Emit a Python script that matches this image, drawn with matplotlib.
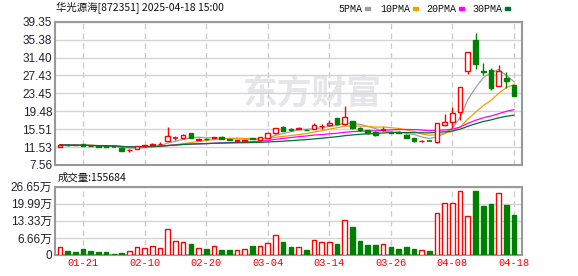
import matplotlib
matplotlib.use("Agg")
from matplotlib import pyplot as plt
from matplotlib.patches import Rectangle
import numpy as np
import pandas as pd

# trading days shown (2025)
dates = ['01-16', '01-17', '01-20', '01-21', '01-22', '01-23', '01-24', '01-27',
         '02-05', '02-06', '02-07', '02-10', '02-11', '02-12', '02-13', '02-14',
         '02-17', '02-18', '02-19', '02-20', '02-21', '02-24', '02-25', '02-26',
         '02-27', '02-28', '03-03', '03-04', '03-05', '03-06', '03-07', '03-10',
         '03-11', '03-12', '03-13', '03-14', '03-17', '03-18', '03-19', '03-20',
         '03-21', '03-24', '03-25', '03-26', '03-27', '03-28', '03-31', '04-01',
         '04-02', '04-03', '04-07', '04-08', '04-09', '04-10', '04-11', '04-14',
         '04-15', '04-16', '04-17', '04-18']

opens = [11.65, 12.0, 12.05, 12.2, 11.85, 11.75, 11.7, 11.6, 11.4, 10.8,
         11.2, 11.7, 12.1, 12.2, 12.95, 13.5, 13.5, 14.6, 13.2, 13.35,
         13.6, 13.85, 13.3, 12.95, 12.95, 13.45, 13.1, 13.65, 14.7, 15.95,
         15.5, 15.55, 15.4, 15.55, 16.1, 16.35, 17.9, 16.6, 17.3, 15.7,
         15.3, 14.95, 15.3, 14.8, 14.85, 14.3, 13.55, 12.85, 12.95, 12.7,
         16.4, 17.2, 19.25, 28.5, 35.3, 28.5, 28.6, 25.1, 26.75, 25.3]
highs = [12.15, 12.2, 12.1, 12.3, 11.9, 11.8, 11.75, 11.65, 11.5, 11.0,
         11.75, 12.1, 12.5, 12.7, 15.9, 13.9, 14.4, 14.7, 13.6, 13.5,
         13.85, 13.95, 13.4, 13.2, 13.2, 13.6, 13.85, 14.7, 15.85, 16.2,
         15.7, 15.9, 15.5, 16.8, 16.6, 17.6, 18.0, 20.6, 17.4, 15.9,
         15.4, 15.0, 15.9, 14.9, 15.0, 14.4, 13.6, 13.0, 13.0, 16.77,
         18.9, 20.35, 24.8, 32.6, 36.9, 30.25, 29.0, 29.75, 28.3, 25.4]
lows = [11.6, 11.7, 11.9, 11.8, 11.7, 11.6, 11.45, 11.5, 10.6, 10.35,
        11.15, 11.65, 11.9, 12.0, 12.8, 13.2, 13.4, 13.5, 13.1, 13.1,
        13.5, 13.3, 13.1, 12.8, 12.85, 13.3, 13.05, 13.6, 14.5, 15.0,
        15.2, 15.5, 15.25, 15.5, 15.6, 16.3, 16.5, 16.4, 15.6, 15.0,
        14.5, 13.9, 15.2, 14.6, 14.6, 13.5, 12.7, 12.6, 12.8, 12.5,
        16.3, 15.7, 17.6, 27.75, 28.8, 27.5, 24.1, 25.0, 24.6, 22.8]
closes = [12.05, 11.9, 11.95, 11.85, 11.75, 11.65, 11.6, 11.55, 10.7, 10.95,
          11.7, 12.0, 12.2, 12.3, 14.0, 13.55, 14.2, 13.65, 13.3, 13.25,
          13.75, 13.4, 13.2, 13.05, 13.1, 13.35, 13.75, 14.6, 15.75, 15.2,
          15.4, 15.75, 15.3, 16.35, 16.25, 16.95, 16.6, 18.3, 15.7, 15.35,
          14.65, 14.2, 15.6, 14.7, 14.75, 13.6, 12.95, 12.95, 12.9, 16.77,
          17.1, 19.0, 24.8, 32.6, 29.9, 28.2, 24.6, 28.35, 26.1, 22.9]
# volume in shares
volumes = [30000, 15500, 10400, 22000, 15500, 11700, 11700, 4000, 6500, 14300,
           30000, 27000, 34000, 26000, 100000, 54500, 49000, 43000, 27000, 23000,
           35000, 19500, 19500, 18000, 23000, 35000, 35000, 45000, 78000, 51000,
           32000, 31000, 19500, 57000, 49000, 49000, 43000, 135000, 109000, 54000,
           39000, 39000, 41500, 31000, 23000, 31000, 23000, 18000, 15500, 162000,
           201000, 201000, 249000, 154000, 249000, 191000, 198000, 240000, 195000, 155684]

ma_periods = [5, 10, 20, 30]
ma_colors = ['#a0a0a0', '#f0a000', '#ff00ff', '#006f30']
price_ticks = [7.56, 11.53, 15.51, 19.48, 23.45, 27.43, 31.40, 35.38, 39.35]
vol_ticks = [0, 66625, 133250, 199875, 266500]
vol_labels = ['0', '6.66万', '13.33万', '19.99万', '26.65万']
date_ticks = ['01-21', '02-10', '02-20', '03-04', '03-14', '03-26', '04-08', '04-18']

RED = '#ff0000'
GREEN = '#008000'
FRAME = '#999999'

x = np.arange(len(dates))
o = np.array(opens); h = np.array(highs); l = np.array(lows); c = np.array(closes)
up = c >= o
tick_idx = [dates.index(d) for d in date_ticks]
cs = pd.Series(closes)

fig = plt.figure(figsize=(5.78, 2.76), dpi=100)
ax1 = fig.add_axes([0.0952, 0.4022, 0.808, 0.5192])
ax2 = fig.add_axes([0.0952, 0.0761, 0.808, 0.2475])

#price panel
ax1.text(0.552, 0.50, '东方财富', transform=ax1.transAxes, ha='center', va='center',
         fontsize=25, fontweight='bold', color='#e6e6ea', family='Noto Sans CJK SC', zorder=0)
for n, col in zip(ma_periods, ma_colors):
    ax1.plot(x, cs.rolling(n, min_periods=1).mean(), color=col, lw=0.9, zorder=2)

w = 0.6
for i in range(len(x)):
    col = RED if up[i] else GREEN
    lo_b, hi_b = min(o[i], c[i]), max(o[i], c[i])
    ax1.vlines(x[i], l[i], lo_b, color=col, lw=1, zorder=3)
    ax1.vlines(x[i], hi_b, h[i], color=col, lw=1, zorder=3)
    if hi_b - lo_b < 0.08:
        ax1.hlines(c[i], x[i] - w / 2, x[i] + w / 2, color=col, lw=1.2, zorder=4)
    else:
        ax1.add_patch(Rectangle((x[i] - w / 2, lo_b), w, hi_b - lo_b,
                                facecolor='white' if up[i] else GREEN,
                                edgecolor=col, lw=1, zorder=4))

ax1.set_xlim(-0.65, 60.05)
ax1.set_ylim(price_ticks[0], price_ticks[-1])
ax1.set_yticks(price_ticks)
ax1.set_yticklabels(['%.2f' % t for t in price_ticks])
ax1.set_xticks(tick_idx)
ax1.set_xticklabels([])

#volume panel
vcol = [RED if u else GREEN for u in up]
ax2.bar(x, volumes, width=w, color=['white' if u else GREEN for u in up],
        edgecolor=vcol, lw=1, zorder=3)
ax2.set_xlim(-0.65, 60.05)
ax2.set_ylim(0, vol_ticks[-1])
ax2.set_yticks(vol_ticks)
ax2.set_yticklabels(vol_labels)
ax2.set_xticks(tick_idx)
ax2.set_xticklabels(date_ticks)

for ax in (ax1, ax2):
    ax.yaxis.grid(True, color='#d4d4d4', lw=1, ls='-', zorder=0)
    ax.xaxis.grid(True, color='#cccccc', lw=1, ls=(0, (4, 3)), zorder=0)
    ax.set_axisbelow(True)
    for s in ax.spines.values():
        s.set_color(FRAME)
        s.set_linewidth(1.5)
    ax.tick_params(length=0, pad=2)
    for t in ax.get_yticklabels():
        t.set_family(['Liberation Sans', 'Noto Sans CJK SC'])
        t.set_fontsize(8.5)
        t.set_color('#222233')
for t in ax2.get_xticklabels():
    t.set_family('Liberation Mono')
    t.set_fontsize(7.5)
    t.set_color(RED)

#header texts
fig.text(56 / 578, 1 - 8 / 276, '华光源海[872351] 2025-04-18 15:00', ha='left', va='center',
         fontsize=7.5, family=['Noto Sans CJK SC', 'DejaVu Sans'], color='#111111')
fig.text(58 / 578, 1 - 178 / 276, '成交量:%d' % volumes[-1], ha='left', va='center',
         fontsize=7.5, family=['Noto Sans CJK SC', 'DejaVu Sans'], color='#111111')

leg_x = [338, 380, 426, 472]
for n, col, lx in zip(ma_periods, ma_colors, leg_x):
    txt = '%dPMA' % n
    fig.text(lx / 578, 1 - 8.5 / 276, txt, ha='left', va='center', fontsize=7.2,
             family='Liberation Mono', color='#111111')
    sx = lx + 6 * len(txt) + 3
    fig.add_artist(Rectangle((sx / 578, 1 - 10 / 276), 5 / 578, 3 / 276,
                             transform=fig.transFigure, color=col))

fig.savefig('out.png', dpi=100)
